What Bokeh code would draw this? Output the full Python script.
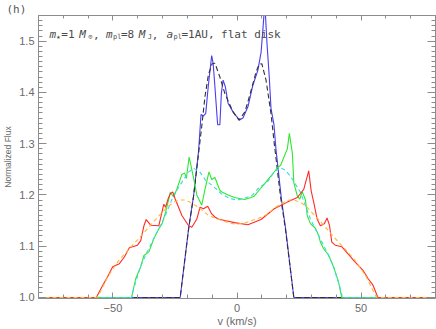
import numpy as np
from bokeh.plotting import figure
from bokeh.models import LinearAxis, FixedTicker, Label, Range1d, PrintfTickFormatter
from bokeh.embed import file_html
from bokeh.resources import INLINE

# ---------------- data ----------------
v_red = [-80, -56.7, -54.1, -52.1, -50.1, -47.4, -45.4, -43.4, -40.1, -38.8, -37.5, -36.6,
         -34.8, -31.5, -29.5, -28.8, -27.8, -26.9, -25.9, -24.9, -22.2, -19.5, -18.2, -16.2,
         -14.9, -13.5, -11.8, -10.2, -8.9, -7.6, -4.9, -1.0, 4.4, 9.7, 15.0, 20.3, 24.3, 26.9,
         28.9, 29.9, 30.9, 32.3, 33.6, 35.2, 36.3, 37.3, 38.2, 39.6, 42.2, 43.5, 45.3, 46.9,
         48.8, 50.8, 52.8, 54.8, 56.8, 80]
f_red = [1.0, 1.0, 1.024, 1.041, 1.060, 1.066, 1.079, 1.097, 1.102, 1.111, 1.140, 1.152,
         1.141, 1.140, 1.182, 1.176, 1.192, 1.202, 1.206, 1.192, 1.160, 1.140, 1.137, 1.153,
         1.176, 1.173, 1.178, 1.163, 1.157, 1.153, 1.150, 1.146, 1.142, 1.152, 1.173, 1.186,
         1.195, 1.211, 1.247, 1.208, 1.186, 1.153, 1.140, 1.144, 1.155, 1.140, 1.108, 1.102,
         1.099, 1.092, 1.082, 1.073, 1.063, 1.053, 1.037, 1.024, 1.0, 1.0]

v_orange = [-80, -57, -56, -52, -48, -44, -39, -34, -28, -25.5, -23, -21, -19, -15.5, -12, -9,
            -6, -3, 0, 3, 6, 9, 12, 15.5, 19, 21, 23, 25.5, 28, 34, 39, 44, 48, 52, 56, 57, 80]
f_orange = [1.0, 1.0, 1.002, 1.041, 1.070, 1.092, 1.118, 1.146, 1.177, 1.186, 1.190, 1.190,
            1.186, 1.176, 1.162, 1.155, 1.150, 1.145, 1.143, 1.145, 1.150, 1.155, 1.162, 1.176,
            1.186, 1.190, 1.190, 1.186, 1.177, 1.146, 1.118, 1.092, 1.070, 1.041, 1.002, 1.0, 1.0]

v_green = [-80, -42.5, -40.8, -38.8, -37.5, -35.5, -33.5, -31.5, -30.2, -28.8, -27.5, -26.9,
           -25.5, -24.2, -22.2, -21.1, -20.4, -19.3, -18.5, -17.5, -16.2, -14.2, -12.9, -11.3,
           -10.2, -8.9, -7.0, -6.3, -3.6, -1.0, 3.0, 5.7, 7.0, 9.7, 11.0, 13.7, 16.3, 17.6,
           19.6, 20.3, 21.1, 22.3, 22.9, 24.3, 25.3, 26.3, 27.6, 28.3, 29.6, 31.6, 32.9, 33.6,
           34.9, 36.9, 38.9, 40.9, 42.2, 80]
f_green = [1.0, 1.0, 1.037, 1.060, 1.082, 1.089, 1.115, 1.134, 1.144, 1.166, 1.192, 1.205,
           1.196, 1.212, 1.240, 1.243, 1.232, 1.274, 1.256, 1.233, 1.200, 1.180, 1.211, 1.245,
           1.230, 1.234, 1.210, 1.206, 1.200, 1.195, 1.191, 1.195, 1.198, 1.214, 1.221, 1.237,
           1.253, 1.258, 1.282, 1.290, 1.320, 1.282, 1.224, 1.198, 1.192, 1.206, 1.190, 1.160,
           1.144, 1.135, 1.121, 1.108, 1.095, 1.083, 1.060, 1.031, 1.0, 1.0]

v_cyan = [-80, -42.5, -41.6, -38.9, -36.8, -32.9, -29.6, -27.5, -25.5, -22.2, -19.5, -17.5,
          -15, -12.7, -8.2, -6.3, -2.9, 0, 2.9, 6.3, 8.2, 12.5, 15, 17.5, 19.5, 21.6, 25.6,
          27.5, 29.6, 32.9, 36.8, 38.9, 41.6, 42.5, 80]
f_cyan = [1.0, 1.0, 1.018, 1.060, 1.083, 1.121, 1.152, 1.176, 1.200, 1.225, 1.245, 1.252,
          1.245, 1.229, 1.211, 1.202, 1.193, 1.190, 1.193, 1.200, 1.211, 1.227, 1.245, 1.253,
          1.248, 1.236, 1.205, 1.180, 1.153, 1.121, 1.083, 1.060, 1.018, 1.0, 1.0]

v_blue = [-80, -22.9, -19.5, -17.5, -15.5, -14.5, -13.5, -12.6, -11.6, -10.2, -9.6, -8.9,
          -7.8, -6.9, -6.3, -5.6, -4.7, -3.6, -1.6, 1.0, 2.4, 4.4, 6.4, 8.4, 9.7, 10.4, 11.2,
          12.1, 13.0, 13.7, 14.3, 14.9, 15.7, 16.3, 17.9, 19.6, 22.9, 80]
f_blue = [1.0, 1.0, 1.134, 1.198, 1.285, 1.357, 1.354, 1.359, 1.411, 1.472, 1.456, 1.411,
          1.337, 1.337, 1.398, 1.424, 1.411, 1.379, 1.362, 1.346, 1.350, 1.372, 1.414, 1.443,
          1.478, 1.520, 1.575, 1.495, 1.430, 1.369, 1.353, 1.337, 1.289, 1.263, 1.192, 1.134,
          1.0, 1.0]

v_black = [-80, -22.9, -19.5, -17.5, -15.3, -14.2, -12.9, -11.5, -10, -8.9, -6.9, -4.9, -1.6,
           0.8, 3.2, 5, 7.7, 8.9, 10, 11.7, 13.7, 15, 17.5, 19.5, 22.9, 80]
f_black = [1.0, 1.0, 1.134, 1.198, 1.289, 1.334, 1.392, 1.435, 1.456, 1.457, 1.430, 1.398,
           1.362, 1.346, 1.362, 1.392, 1.440, 1.455, 1.456, 1.424, 1.359, 1.301, 1.198, 1.134,
           1.0, 1.0]

x_major = [-50, 0, 50]
x_minor = list(range(-80, 81, 10))
y_major = [1.0, 1.1, 1.2, 1.3, 1.4, 1.5]
y_minor = [round(1.0 + 0.01 * i, 2) for i in range(0, 56)]

X0, X1 = -80, 80
Y0, Y1 = 0.998, 1.55

# ---------------- figure ----------------
p = figure(width=436, height=329, output_backend="svg", toolbar_location=None,
           x_range=Range1d(X0, X1), y_range=Range1d(Y0, Y1),
           min_border_left=35, min_border_right=1, min_border_top=14, min_border_bottom=30)
p.grid.visible = False
p.outline_line_color = None

AX = "#8c8c8c"
LBL = "#6a6a6a"

# panel tag as a left-aligned title pulled to the canvas edge
p.title.text = "(h)"
p.title.align = "left"
p.title.offset = -32
p.title.standoff = 0
p.title.text_font = "DejaVu Sans Mono"
p.title.text_font_size = "11px"
p.title.text_font_style = "normal"
p.title.text_color = "#555555"


def style_axis(ax, major_in, minor_in, labels):
    ax.axis_line_color = AX
    ax.major_tick_line_color = AX
    ax.minor_tick_line_color = AX
    ax.major_tick_in = major_in
    ax.minor_tick_in = minor_in
    ax.major_tick_out = 0
    ax.minor_tick_out = 0
    if labels:
        ax.major_label_text_color = LBL
        ax.major_label_text_font = "Liberation Sans"
        ax.major_label_text_font_size = "11px"
    else:
        ax.major_label_text_alpha = 0
        ax.major_label_text_font_size = "1px"
        ax.major_label_standoff = 0


xb = p.xaxis[0]
xb.ticker = FixedTicker(ticks=x_major, minor_ticks=x_minor)
style_axis(xb, 6, 4, True)
xb.major_label_standoff = 5
xb.axis_label = "v (km/s)"
xb.axis_label_standoff = 0
xb.axis_label_text_font = "Liberation Sans"
xb.axis_label_text_font_size = "11px"
xb.axis_label_text_font_style = "normal"
xb.axis_label_text_color = LBL

yl = p.yaxis[0]
yl.ticker = FixedTicker(ticks=y_major, minor_ticks=y_minor)
yl.formatter = PrintfTickFormatter(format="%.1f")
style_axis(yl, 8, 4, True)
yl.major_label_standoff = 4
yl.axis_label = "Normalized Flux"
yl.axis_label_standoff = 3
yl.axis_label_text_font = "Liberation Sans"
yl.axis_label_text_font_size = "8.5px"
yl.axis_label_text_font_style = "normal"
yl.axis_label_text_color = LBL

xt = LinearAxis(ticker=FixedTicker(ticks=x_major, minor_ticks=x_minor))
style_axis(xt, 5, 3, False)
p.add_layout(xt, "above")
yr = LinearAxis(ticker=FixedTicker(ticks=y_major, minor_ticks=y_minor))
style_axis(yr, 8, 4, False)
p.add_layout(yr, "right")

# ---------------- curves ----------------
p.line(v_blue, f_blue, line_color="#4a3cf0", line_width=1.1)
p.line(v_black, f_black, line_color="#303030", line_width=1.1, line_dash="5 3")
p.line(v_green, f_green, line_color="#2ee82e", line_width=1.1)
p.line(v_cyan, f_cyan, line_color="#3cd7e6", line_width=1.1, line_dash="4 3")
p.line(v_red, f_red, line_color="#ff2a2a", line_width=1.1)
p.line(v_orange, f_orange, line_color="#ffb833", line_width=1.1, line_dash="4 3")


# ---------------- in-frame annotation ----------------
def px(xp, yp):
    """convert a reference pixel position (text placement) to data units"""
    return X0 + (xp - 35) * (X1 - X0) / 400.0, Y0 + (299 - yp) * (Y1 - Y0) / 285.0


def add_text(t, xp, yp, size, font="DejaVu Sans Mono", style="normal", color="#4a4a4a",
             align="left", baseline="alphabetic", angle=0.0):
    x, y = px(xp, yp)
    p.add_layout(Label(x=x, y=y, text=t, text_font=font, text_font_size=size,
                       text_font_style=style, text_color=color, text_align=align,
                       text_baseline=baseline, angle=angle))


MAIN = "11px"
SUB = "7px"
yb, ys = 33.3, 35.5
parts = [
    ("m", 46, False, "italic"), ("\u2605", 53, True, "normal"), ("=1", 58, False, "normal"),
    ("M", 76, False, "italic"), ("\u2299", 85, True, "normal"), (",", 90, False, "normal"),
    ("m", 103, False, "italic"), ("pl", 110, True, "normal"), ("=8", 118, False, "normal"),
    ("M", 136, False, "italic"), ("J", 145, True, "normal"), (",", 149, False, "normal"),
    ("a", 164, False, "italic"), ("pl", 171, True, "normal"), ("=1AU,", 179, False, "normal"),
    ("flat disk", 219, False, "normal"),
]
for t, xp, sub, st in parts:
    add_text(t, xp, ys if sub else yb, SUB if sub else MAIN, style=st)

open("out.html", "w").write(file_html(p, INLINE))
